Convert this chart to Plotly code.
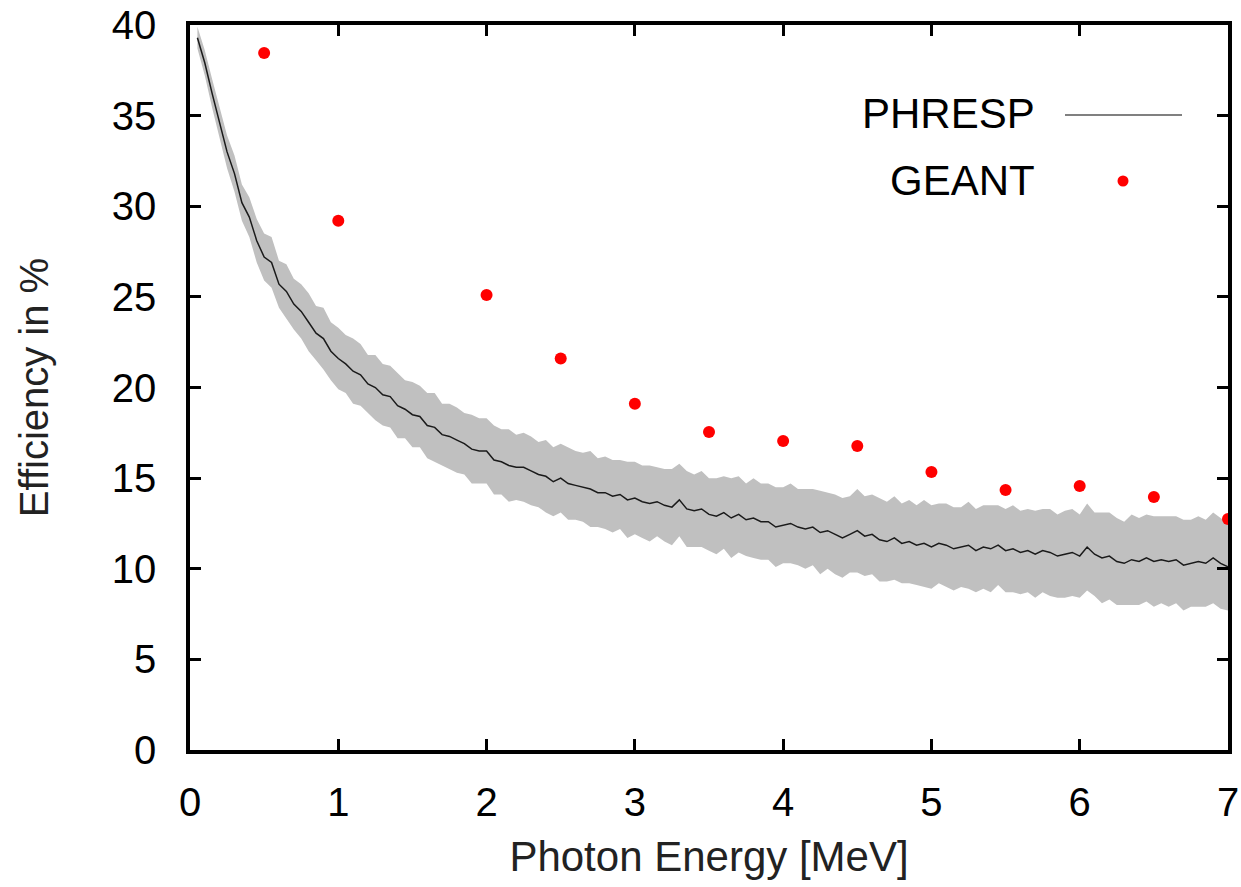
import plotly.graph_objects as go

# PHRESP simulated efficiency (central values) and uncertainty half-widths
energy = [round(0.05 * i, 2) for i in range(1, 141)]
phresp = [
    39.3, 37.9, 36.2, 34.6, 33.0, 31.8, 30.2, 29.4, 28.1, 27.2,
    26.9, 25.7, 25.3, 24.6, 24.2, 23.6, 23.0, 22.7, 22.0, 21.6,
    21.3, 20.9, 20.7, 20.2, 20.0, 19.6, 19.5, 19.0, 18.8, 18.5,
    18.4, 17.9, 17.8, 17.4, 17.3, 17.1, 16.9, 16.6, 16.5, 16.5,
    16.0, 15.9, 15.7, 15.6, 15.6, 15.4, 15.2, 15.1, 14.8, 15.0,
    14.7, 14.6, 14.5, 14.4, 14.2, 14.2, 14.0, 14.1, 13.8, 13.9,
    13.7, 13.6, 13.7, 13.5, 13.4, 13.8, 13.3, 13.2, 13.3, 13.0,
    12.9, 13.1, 12.8, 13.0, 12.7, 12.8, 12.6, 12.6, 12.3, 12.4,
    12.5, 12.3, 12.2, 12.3, 12.0, 12.1, 11.9, 11.7, 11.9, 12.1,
    11.8, 11.9, 11.6, 11.5, 11.7, 11.4, 11.5, 11.3, 11.4, 11.2,
    11.4, 11.3, 11.1, 11.2, 11.3, 11.0, 11.2, 11.1, 11.3, 11.0,
    11.1, 10.9, 11.0, 10.8, 11.0, 10.9, 10.7, 10.8, 10.9, 10.7,
    11.2, 10.8, 10.6, 10.7, 10.4, 10.3, 10.5, 10.4, 10.6, 10.4,
    10.5, 10.4, 10.5, 10.2, 10.3, 10.4, 10.3, 10.6, 10.3, 10.1,
]
phresp_err = [
    0.6, 0.7, 0.8, 0.9, 0.9, 1.0, 1.0, 1.1, 1.2, 1.3,
    1.4, 1.3, 1.5, 1.4, 1.5, 1.6, 1.5, 1.7, 1.6, 1.7,
    1.6, 1.8, 1.7, 1.6, 1.8, 1.7, 1.7, 1.8, 1.6, 1.8,
    1.7, 1.8, 1.9, 1.7, 1.8, 1.8, 1.7, 1.9, 1.8, 1.8,
    1.9, 1.8, 2.0, 1.8, 1.9, 1.9, 1.8, 2.0, 1.9, 1.9,
    2.0, 1.9, 1.9, 2.1, 1.9, 2.0, 2.0, 1.9, 2.1, 2.0,
    2.0, 2.1, 1.9, 2.0, 2.1, 2.0, 2.1, 2.0, 2.1, 2.0,
    2.1, 2.0, 2.2, 2.1, 2.0, 2.2, 2.1, 2.1, 2.2, 2.1,
    2.2, 2.1, 2.2, 2.1, 2.3, 2.1, 2.2, 2.2, 2.1, 2.3,
    2.2, 2.2, 2.3, 2.2, 2.3, 2.2, 2.3, 2.2, 2.4, 2.3,
    2.2, 2.3, 2.3, 2.2, 2.4, 2.3, 2.3, 2.4, 2.2, 2.3,
    2.4, 2.3, 2.3, 2.4, 2.3, 2.4, 2.3, 2.4, 2.4, 2.3,
    2.4, 2.3, 2.5, 2.4, 2.4, 2.3, 2.5, 2.4, 2.4, 2.5,
    2.4, 2.5, 2.4, 2.5, 2.4, 2.5, 2.4, 2.5, 2.5, 2.4,
]

# GEANT simulation points
geant_energy = [0.5, 1.0, 2.0, 2.5, 3.0, 3.5, 4.0, 4.5, 5.0, 5.5, 6.0, 6.5, 7.0]
geant_eff = [38.45, 29.2, 25.1, 21.6, 19.1, 17.55, 17.05, 16.77, 15.34, 14.34, 14.57, 13.96, 12.74]

x_ticks = [0, 1, 2, 3, 4, 5, 6, 7]
y_ticks = [0, 5, 10, 15, 20, 25, 30, 35, 40]

upper = [v + e for v, e in zip(phresp, phresp_err)]
lower = [v - e for v, e in zip(phresp, phresp_err)]

FONT = "Liberation Sans, Arial, sans-serif"

fig = go.Figure()
fig.add_trace(go.Scatter(x=energy, y=upper, mode="lines", line=dict(width=0, color="#c0c0c0"),
                         showlegend=False, hoverinfo="skip"))
fig.add_trace(go.Scatter(x=energy, y=lower, mode="lines", line=dict(width=0, color="#c0c0c0"),
                         fill="tonexty", fillcolor="#c0c0c0", showlegend=False, hoverinfo="skip"))
fig.add_trace(go.Scatter(x=energy, y=phresp, mode="lines", name="PHRESP",
                         line=dict(color="#1a1a1a", width=1.5), showlegend=False))
fig.add_trace(go.Scatter(x=geant_energy, y=geant_eff, mode="markers", name="GEANT",
                         marker=dict(color="#ff0000", size=12), showlegend=False))

axis_common = dict(
    showline=True, linecolor="black", linewidth=3.5, mirror="ticks",
    ticks="inside", ticklen=11, tickwidth=3, tickcolor="black",
    showgrid=False, zeroline=False, automargin=False,
    tickfont=dict(family=FONT, size=40, color="black"),
)

fig.update_xaxes(range=[0, 7], tickvals=x_ticks, ticklabelstandoff=14,
                 title=dict(text="Photon Energy [MeV]", font=dict(family=FONT, size=42, color="#222"),
                            standoff=20),
                 **axis_common)
fig.update_yaxes(range=[0, 40], tickvals=y_ticks, ticklabelstandoff=22,
                 title=dict(text="Efficiency in %", font=dict(family=FONT, size=40, color="#222"),
                            standoff=52),
                 **axis_common)

# Legend (gnuplot style: label on the left, sample on the right)
W, H = 1038.0, 725.0
def px(x):
    return (x - 190) / W
def py(y):
    return (750 - y) / H

fig.add_annotation(x=px(1037), y=py(113), xref="paper", yref="paper", text="PHRESP",
                   showarrow=False, xanchor="right", yanchor="middle",
                   font=dict(family=FONT, size=42, color="black"))
fig.add_annotation(x=px(1037), y=py(180), xref="paper", yref="paper", text="GEANT",
                   showarrow=False, xanchor="right", yanchor="middle",
                   font=dict(family=FONT, size=42, color="black"))
fig.add_shape(type="line", xref="paper", yref="paper", x0=px(1065), x1=px(1182),
              y0=py(115), y1=py(115), line=dict(color="#808080", width=2))
fig.add_shape(type="circle", xref="paper", yref="paper", xsizemode="pixel", ysizemode="pixel",
              xanchor=px(1123), yanchor=py(181), x0=-5.5, x1=5.5, y0=-5.5, y1=5.5,
              fillcolor="#ff0000", line=dict(width=0))

fig.update_layout(
    width=1241, height=887,
    margin=dict(l=190, r=13, t=25, b=137),
    paper_bgcolor="white", plot_bgcolor="white",
    showlegend=False,
)

fig.write_html("out.html")
